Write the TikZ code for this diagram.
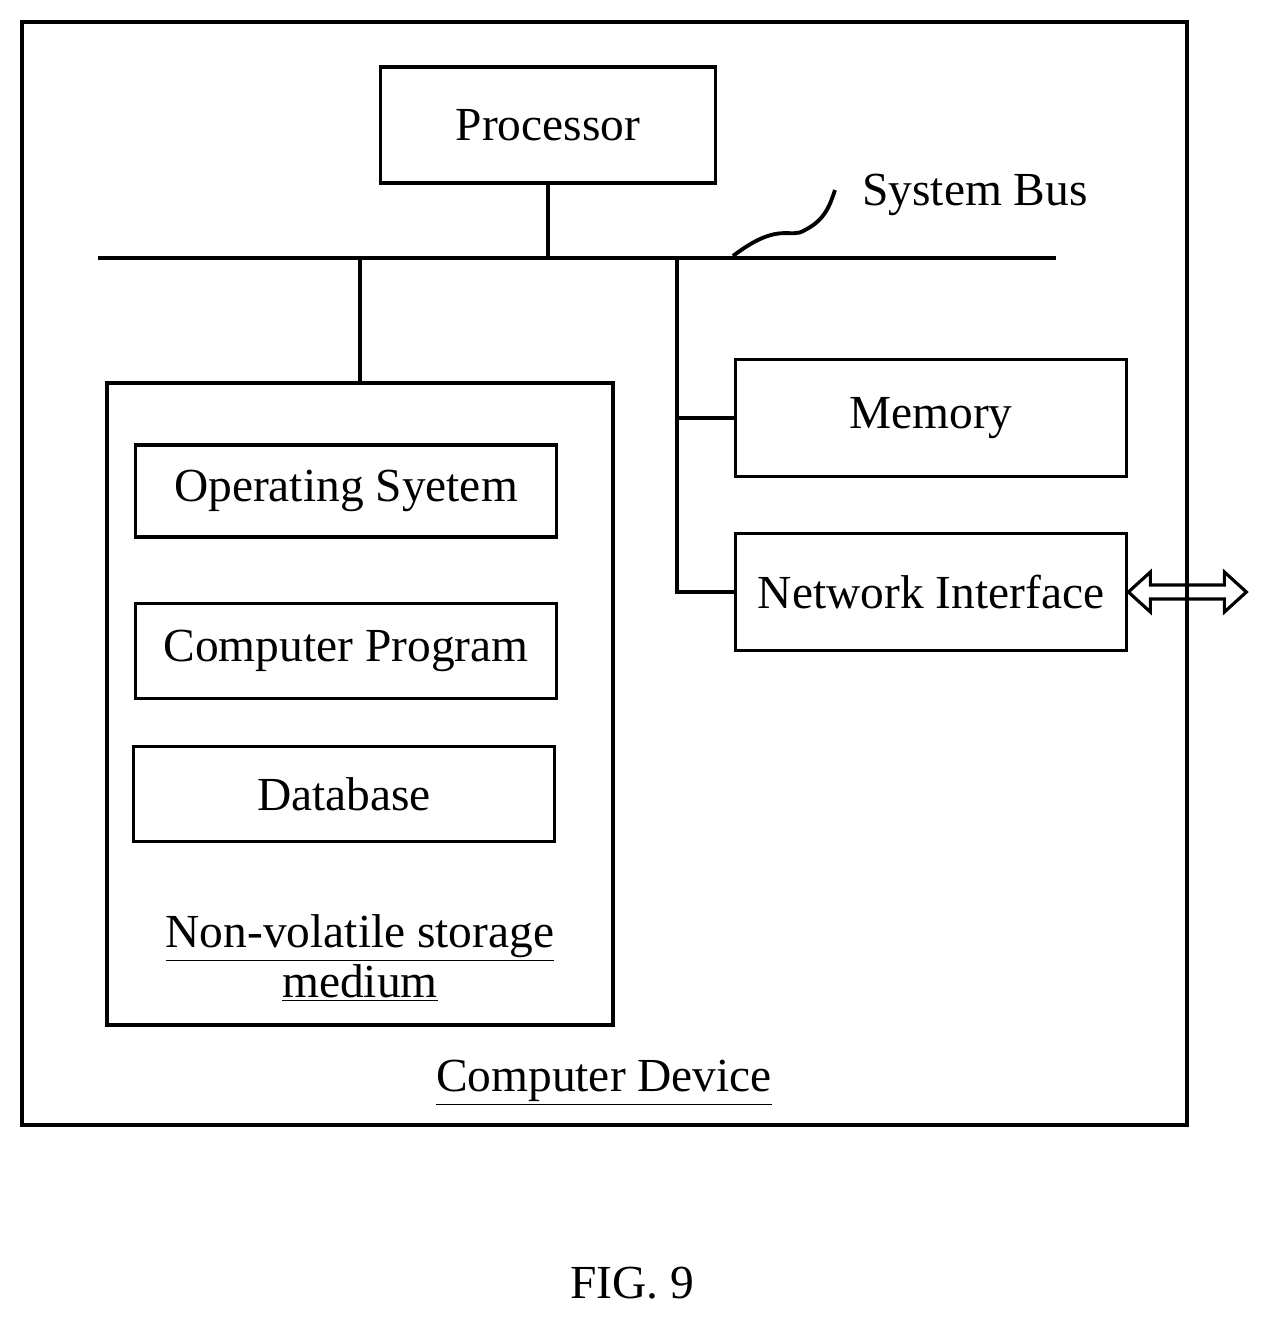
\documentclass[tikz,border=0pt]{standalone}
\usepackage{fontspec}
\setmainfont{Liberation Serif}
\usetikzlibrary{arrows.meta}
\tikzset{box/.style={draw, line width=2.2pt, inner sep=0pt, font=\fontsize{27}{30}\selectfont}}

\begin{document}
\begin{tikzpicture}[x=0.02cm, y=-0.02cm, line width=2.2pt]
        \useasboundingbox (0,0) rectangle (1266,1320);
        \draw (22,22) rectangle (1187,1125);
        \node[box, minimum width=6.7cm, minimum height=2.32cm] (proc) at (548,125) {Processor};
        \coordinate (busl) at (98,258);
        \coordinate (busr) at (1056,258);
        \draw (busl) -- (busr);
        \draw (proc.south) -- (proc.south |- busl);
        \coordinate (sq) at (733,256);
        \draw (sq) .. controls (780,220) and (790,240) .. (805,230) .. controls (825,220) and (830,205) .. (835,190);
        \node[font=\fontsize{27}{30}\selectfont] (busname) at (975,195) {System Bus};
        \node[box, minimum width=10.12cm, minimum height=12.84cm] (store) at (360,704) {};
        \draw (store.north) -- (store.north |- busl);
        \node[box, minimum width=8.42cm, minimum height=1.84cm] (os) at (346,491) {Operating Syetem};
        \node[box, minimum width=8.42cm, minimum height=1.9cm] (prog) at (346,651) {Computer Program};
        \node[box, minimum width=8.42cm, minimum height=1.9cm] (db) at (344,794) {Database};
        \node[align=center, font=\fontsize{27}{28}\selectfont] (storename) at (360,958) {\underline{Non-volatile storage}\\\underline{medium}};
        \node[box, minimum width=7.82cm, minimum height=2.34cm] (mem) at (931,418) {Memory};
        \node[box, minimum width=7.82cm, minimum height=2.34cm] (net) at (931,592) {Network Interface};
        \coordinate (tap) at (677,258);
        \draw (tap) -- (tap |- net.west) -- (net.west);
        \draw (tap |- mem.west) -- (mem.west);
        % hollow two-way arrow
        \draw[line width=1.8pt, line join=miter] (net.east) -- ++(22,-20) -- ++(0,13) -- ++(74,0) -- ++(0,-13) -- ++(22,20)
             -- ++(-22,20) -- ++(0,-13) -- ++(-74,0) -- ++(0,13) -- cycle;
        \node[font=\fontsize{27}{30}\selectfont] (dev) at (604,1083) {\underline{Computer Device}};
        \node[font=\fontsize{27}{30}\selectfont] (fig) at (632,1283) {FIG. 9};
\end{tikzpicture}
\end{document}
